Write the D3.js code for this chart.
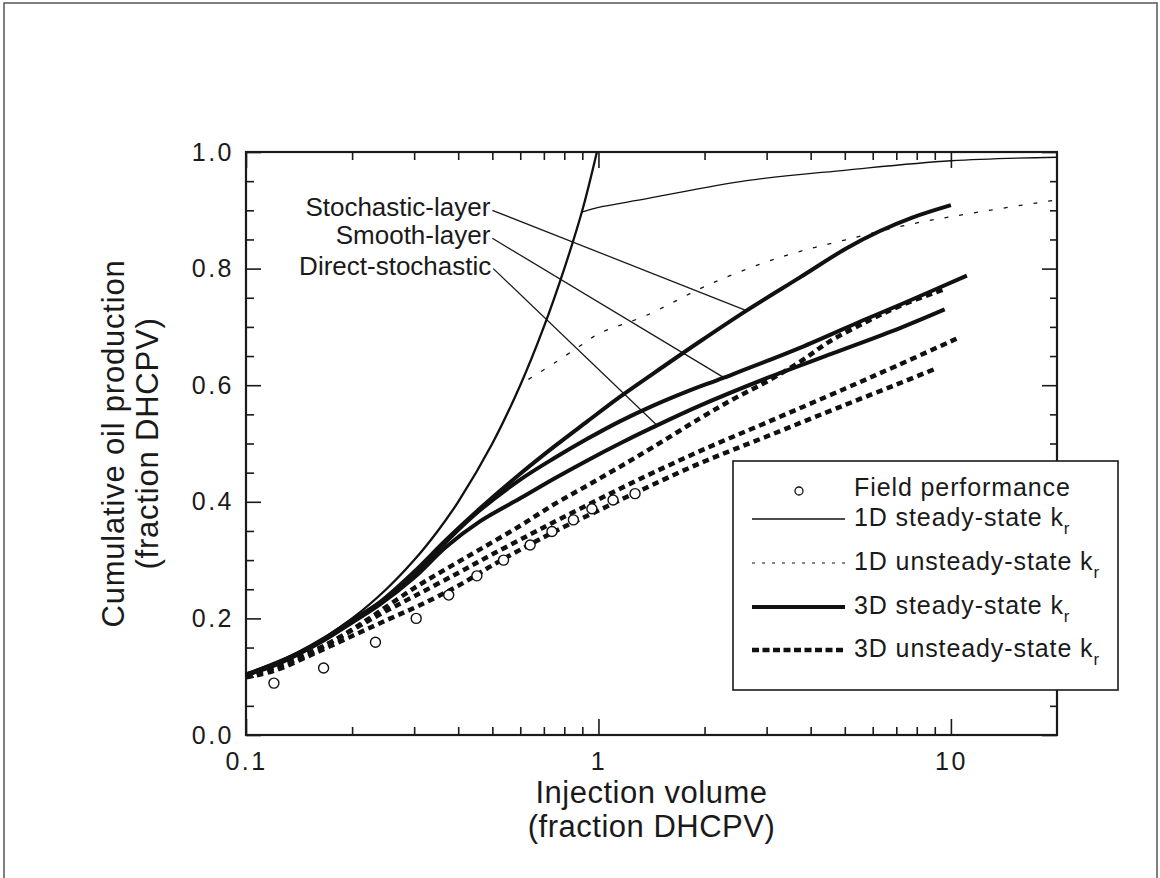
<!DOCTYPE html>
<html>
<head>
<meta charset="utf-8">
<script src="https://cdn.jsdelivr.net/npm/d3@7"></script>
<style>
    html, body {margin: 0; padding: 0; background: #fff;}
    svg {display: block;}
    text {font-family: "Liberation Sans", Arial, Helvetica, sans-serif; fill: #1a1a1a;}
</style>
</head>
<body>
<div id="chart"></div>
<script>
//axis ticks
const xTickValues = [0.1, 1, 10];
const xTickLabels = ['0.1', '1', '10'];
const xMinorTicks = [0.2, 0.3, 0.4, 0.5, 0.6, 0.7, 0.8, 0.9, 2, 3, 4, 5, 6, 7, 8, 9];
const yTickValues = [0, 0.2, 0.4, 0.6, 0.8, 1.0];
const yMinorTicks = [0.05, 0.1, 0.15, 0.25, 0.3, 0.35, 0.45, 0.5, 0.55, 0.65, 0.7, 0.75, 0.85, 0.9, 0.95];

//field performance (circles)
const fieldX = [0.12, 0.166, 0.233, 0.304, 0.376, 0.452, 0.538, 0.64, 0.738, 0.849, 0.958, 1.10, 1.27];
const fieldY = [0.089, 0.115, 0.159, 0.200, 0.240, 0.273, 0.300, 0.326, 0.349, 0.369, 0.388, 0.403, 0.414];

//1D, before breakthrough (shared by both 1D cases)
const oneDRiseX = [0.1, 0.15, 0.2, 0.25, 0.3, 0.35, 0.4, 0.5, 0.6, 0.7, 0.8, 0.9, 0.99];
const oneDRiseY = [0.105, 0.15, 0.2, 0.25, 0.3, 0.35, 0.4, 0.5, 0.6, 0.7, 0.8, 0.9, 1.0];

//1D steady-state kr after breakthrough
const oneDSteadyX = [0.897, 1.0, 1.372, 2.63, 5.06, 10, 20];
const oneDSteadyY = [0.897, 0.905, 0.920, 0.951, 0.969, 0.985, 0.991];

//1D unsteady-state kr after breakthrough
const oneDUnsteadyX = [0.633, 0.75, 0.89, 1.0, 1.37, 2.1, 3.3, 5.0, 7.8, 12, 20];
const oneDUnsteadyY = [0.61, 0.638, 0.668, 0.688, 0.72, 0.775, 0.82, 0.849, 0.877, 0.897, 0.918];

//3D steady-state kr
const stochSteadyX = [0.1, 0.12, 0.14, 0.166, 0.2, 0.24, 0.3, 0.37, 0.46, 0.6, 0.75, 0.93, 1.15, 1.43, 1.94, 2.63, 3.73, 5.06, 6.27, 7.8, 10];
const stochSteadyY = [0.104, 0.121, 0.14, 0.165, 0.197, 0.228, 0.28, 0.335, 0.388, 0.448, 0.495, 0.538, 0.58, 0.62, 0.675, 0.728, 0.785, 0.835, 0.864, 0.888, 0.909];
const smoothSteadyX = [0.1, 0.12, 0.14, 0.166, 0.2, 0.24, 0.3, 0.37, 0.46, 0.6, 0.75, 0.93, 1.15, 1.43, 1.78, 2.27, 3.73, 5.77, 7.17, 11.1];
const smoothSteadyY = [0.104, 0.12, 0.139, 0.164, 0.196, 0.226, 0.277, 0.332, 0.385, 0.438, 0.475, 0.508, 0.538, 0.565, 0.589, 0.613, 0.664, 0.714, 0.738, 0.788];
const directSteadyX = [0.1, 0.12, 0.14, 0.166, 0.2, 0.24, 0.3, 0.37, 0.46, 0.6, 0.75, 0.93, 1.15, 1.43, 1.94, 3.0, 4.64, 7.17, 9.6];
const directSteadyY = [0.103, 0.119, 0.138, 0.162, 0.193, 0.224, 0.27, 0.323, 0.366, 0.406, 0.44, 0.471, 0.5, 0.528, 0.565, 0.612, 0.655, 0.698, 0.73];

//3D unsteady-state kr
const unsteadyAX = [0.1, 0.12, 0.15, 0.185, 0.23, 0.3, 0.37, 0.46, 0.6, 0.75, 0.93, 1.15, 1.43, 1.94, 2.41, 3.0, 3.73, 4.5, 5.77, 7.17, 9.7];
const unsteadyAY = [0.1, 0.116, 0.14, 0.168, 0.205, 0.252, 0.285, 0.318, 0.359, 0.396, 0.428, 0.46, 0.494, 0.543, 0.576, 0.606, 0.64, 0.674, 0.709, 0.736, 0.766];
const unsteadyBX = [0.1, 0.12, 0.15, 0.2, 0.24, 0.3, 0.4, 0.5, 0.64, 0.78, 1.0, 1.3, 1.94, 3, 5, 7, 10.4];
const unsteadyBY = [0.101, 0.115, 0.138, 0.18, 0.207, 0.238, 0.278, 0.31, 0.344, 0.371, 0.404, 0.438, 0.487, 0.536, 0.594, 0.633, 0.68];
const unsteadyCX = [0.1, 0.12, 0.159, 0.207, 0.257, 0.31, 0.4, 0.5, 0.64, 0.78, 1.0, 1.3, 1.94, 3, 5, 7, 9.1];
const unsteadyCY = [0.099, 0.11, 0.142, 0.174, 0.2, 0.222, 0.256, 0.291, 0.327, 0.354, 0.385, 0.418, 0.466, 0.512, 0.566, 0.601, 0.629];

//annotations (leader from label to curve)
const annoLabels = ['Stochastic-layer', 'Smooth-layer', 'Direct-stochastic'];
const annoFromX = [0.5, 0.5, 0.503];
const annoFromY = [0.9, 0.852, 0.8];
const annoToX = [2.63, 2.27, 1.46];
const annoToY = [0.728, 0.613, 0.532];

//legend
const legendLabels = ['Field performance', '1D steady-state k', '1D unsteady-state k', '3D steady-state k', '3D unsteady-state k'];

document.addEventListener("DOMContentLoaded", function (event) {
    const zip = (xs, ys) => xs.map((x, i) => ({x: x, y: ys[i]}));

    const margin = {top: 152, right: 103, bottom: 143, left: 246},
        width = 1160 - margin.left - margin.right,
        height = 878 - margin.top - margin.bottom;

    const svgRoot = d3.select('#chart')
        .append('svg')
        .attr('width', 1160)
        .attr('height', 878);

    //page frame of the scan
    svgRoot.append('rect')
        .attr('x', 4).attr('y', 3)
        .attr('width', 1153).attr('height', 880)
        .attr('fill', 'none')
        .attr('stroke', '#555')
        .attr('stroke-width', 1.5);

    const g = svgRoot.append('g')
        .attr('transform', `translate(${margin.left},${margin.top})`);

    const xScale = d3.scaleLog().domain([0.1, 20]).range([0, width]);
    const yScale = d3.scaleLinear().domain([0, 1]).range([height, 0]);

    //ticks, all pointing inside
    const tickFont = sel => sel.selectAll('text')
        .style('font-size', '25px')
        .style('letter-spacing', '2.5px')
        .attr('fill', '#1a1a1a');
    const styleTicks = sel => {
        sel.select('.domain').remove();
        sel.selectAll('line').attr('stroke', '#1a1a1a').attr('stroke-width', 1.6);
    };

    g.append('g')
        .call(d3.axisLeft(yScale).tickValues(yTickValues).tickSize(-15).tickPadding(12).tickFormat(d3.format('.1f')))
        .call(styleTicks).call(tickFont);
    g.append('g')
        .call(d3.axisLeft(yScale).tickValues(yMinorTicks).tickSize(-8).tickFormat(''))
        .call(styleTicks);
    g.append('g').attr('transform', `translate(${width},0)`)
        .call(d3.axisRight(yScale).tickValues(yTickValues).tickSize(-15).tickFormat(''))
        .call(styleTicks);
    g.append('g').attr('transform', `translate(${width},0)`)
        .call(d3.axisRight(yScale).tickValues(yMinorTicks).tickSize(-7).tickFormat(''))
        .call(styleTicks);

    g.append('g').attr('transform', `translate(0,${height})`)
        .call(d3.axisBottom(xScale).tickValues(xTickValues).tickSize(-16).tickPadding(17)
            .tickFormat((d, i) => xTickLabels[i]))
        .call(styleTicks).call(tickFont);
    g.append('g').attr('transform', `translate(0,${height})`)
        .call(d3.axisBottom(xScale).tickValues(xMinorTicks).tickSize(-8).tickFormat(''))
        .call(styleTicks);
    g.append('g')
        .call(d3.axisTop(xScale).tickValues(xTickValues).tickSize(-16).tickFormat(''))
        .call(styleTicks);
    g.append('g')
        .call(d3.axisTop(xScale).tickValues(xMinorTicks).tickSize(-8).tickFormat(''))
        .call(styleTicks);

    //frame
    g.append('rect')
        .attr('width', width).attr('height', height)
        .attr('fill', 'none')
        .attr('stroke', '#1a1a1a')
        .attr('stroke-width', 2.2);

    //axis titles
    const xTitle = g.append('text')
        .attr('text-anchor', 'middle')
        .style('font-size', '31px')
        .style('letter-spacing', '0.5px');
    xTitle.append('tspan').attr('x', width / 2).attr('y', height + 68).text('Injection volume');
    xTitle.append('tspan').attr('x', width / 2).attr('y', height + 102).text('(fraction DHCPV)');

    const yTitle = g.append('text')
        .attr('text-anchor', 'middle')
        .attr('transform', `rotate(-90)`)
        .style('font-size', '31px')
        .style('letter-spacing', '0.8px');
    yTitle.append('tspan').attr('x', -height / 2).attr('y', -122).text('Cumulative oil production');
    yTitle.append('tspan').attr('x', -height / 2).attr('y', -88).text('(fraction DHCPV)');

    const line = d3.line()
        .x(d => xScale(d.x))
        .y(d => yScale(d.y))
        .curve(d3.curveCatmullRom.alpha(0.5));

    //leader lines
    annoLabels.forEach((label, i) => {
        g.append('line')
            .attr('x1', xScale(annoFromX[i])).attr('y1', yScale(annoFromY[i]))
            .attr('x2', xScale(annoToX[i])).attr('y2', yScale(annoToY[i]))
            .attr('stroke', '#1a1a1a')
            .attr('stroke-width', 1.3);
        g.append('text')
            .attr('x', xScale(annoFromX[i]) - 2)
            .attr('y', yScale(annoFromY[i]) + 6)
            .attr('text-anchor', 'end')
            .style('font-size', '26px')
            .text(label);
    });

    //series
    const series = [
        {pts: zip(oneDSteadyX, oneDSteadyY), w: 1.3, dash: null},
        {pts: zip(oneDUnsteadyX, oneDUnsteadyY), w: 1.3, dash: '4,11'},
        {pts: zip(oneDRiseX, oneDRiseY), w: 2.3, dash: null},
        {pts: zip(unsteadyCX, unsteadyCY), w: 4.5, dash: '6.5,4.5'},
        {pts: zip(unsteadyBX, unsteadyBY), w: 4.5, dash: '6.5,4.5'},
        {pts: zip(unsteadyAX, unsteadyAY), w: 4.5, dash: '6.5,4.5'},
        {pts: zip(directSteadyX, directSteadyY), w: 4, dash: null},
        {pts: zip(smoothSteadyX, smoothSteadyY), w: 4, dash: null},
        {pts: zip(stochSteadyX, stochSteadyY), w: 4, dash: null}
    ];

    series.forEach(s => {
        g.append('path')
            .datum(s.pts)
            .attr('fill', 'none')
            .attr('stroke', '#111')
            .attr('stroke-width', s.w)
            .attr('stroke-dasharray', s.dash)
            .attr('stroke-linecap', 'butt')
            .attr('d', line);
    });

    g.append('g')
        .selectAll('circle')
        .data(zip(fieldX, fieldY))
        .join('circle')
        .attr('cx', d => xScale(d.x))
        .attr('cy', d => yScale(d.y))
        .attr('r', 5)
        .attr('fill', '#fff')
        .attr('stroke', '#111')
        .attr('stroke-width', 1.4);

    //legend
    const legend = svgRoot.append('g').attr('transform', 'translate(733,461)');
    legend.append('rect')
        .attr('width', 385).attr('height', 229)
        .attr('fill', '#fff')
        .attr('stroke', '#1a1a1a')
        .attr('stroke-width', 1.6);

    const rowY = [30, 58, 102, 146, 189];
    const keyStyles = [null, {w: 1.3, dash: null}, {w: 1.2, dash: '3,7'}, {w: 4, dash: null}, {w: 4.5, dash: '7,3.5'}];
    legendLabels.forEach((label, i) => {
        if (i === 0) {
            legend.append('circle')
                .attr('cx', 66).attr('cy', rowY[i])
                .attr('r', 4)
                .attr('fill', '#fff')
                .attr('stroke', '#111')
                .attr('stroke-width', 1.3);
        } else {
            legend.append('line')
                .attr('x1', 19).attr('x2', 112)
                .attr('y1', rowY[i]).attr('y2', rowY[i])
                .attr('stroke', '#111')
                .attr('stroke-width', keyStyles[i].w)
                .attr('stroke-dasharray', keyStyles[i].dash);
        }
        const t = legend.append('text')
            .attr('x', 121)
            .attr('y', rowY[i] + 5 + (i === 0 ? 0 : 2))
            .style('font-size', '25px')
            .style('letter-spacing', '0.9px')
            .text(label);
        if (i > 0) {
            t.append('tspan')
                .attr('dy', 8)
                .style('font-size', '17px')
                .text('r');
        }
    });
});
</script>
</body>
</html>
